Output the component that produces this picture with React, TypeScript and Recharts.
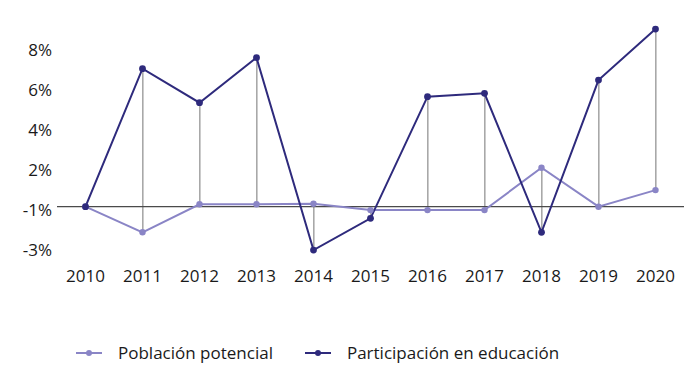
import React from 'react';
import { Bar, ComposedChart, Line, ReferenceLine, XAxis, YAxis } from 'recharts';

const years = ['2010', '2011', '2012', '2013', '2014', '2015', '2016', '2017', '2018', '2019', '2020'];
const poblacion = [0, -1.28, 0.12, 0.12, 0.15, -0.17, -0.17, -0.17, 1.95, 0, 0.83];
const participacion = [0, 6.9, 5.2, 7.45, -2.17, -0.58, 5.5, 5.67, -1.28, 6.33, 8.88];
const yTicks = [8, 6, 4, 2, 0, -2];
const yTickLabels = ['8%', '6%', '4%', '2%', '-1%', '-3%'];
const seriesNames = ['Población potencial', 'Participación en educación'];

const LIGHT = '#8a85c6';
const DARK = '#2e2a7c';
const FONT = '"Open Sans", sans-serif';

const data = years.map((year, i) => ({
  year,
  poblacion: poblacion[i],
  participacion: participacion[i],
  range: [Math.min(poblacion[i], participacion[i]), Math.max(poblacion[i], participacion[i])],
}));

const YTick = ({ x, y, payload }: any) => {
  const idx = yTicks.indexOf(payload.value);
  return (
    <text x={x + 3} y={y} dy={5} textAnchor="end" dominantBaseline="middle" fill="#1a1a1a" fontSize={17} fontFamily={FONT}>
      {yTickLabels[idx]}
    </text>
  );
};

const LegendIcon = ({ color }: { color: string }) => (
  <svg width={26} height={10} style={{ marginRight: 16 }}>
    <line x1={0} y1={5} x2={26} y2={5} stroke={color} strokeWidth={2} />
    <circle cx={13} cy={5} r={3} fill={color} />
  </svg>
);

export default function App() {
  return (
    <div style={{ position: 'absolute', left: 0, top: 0, width: 698, height: 376, background: '#fff' }}>
      <ComposedChart
        width={698}
        height={376}
        data={data}
        margin={{ top: 16.7, right: 14, left: 0, bottom: 79.3 }}
      >
        <XAxis
          dataKey="year"
          axisLine={false}
          tickLine={false}
          tickSize={2}
          tickMargin={1}
          tick={{ fill: '#1a1a1a', fontSize: 17, fontFamily: FONT }}
          interval={0}
        />
        <YAxis
          width={57}
          domain={[-3, 9.5]}
          ticks={yTicks}
          axisLine={false}
          tickLine={false}
          tick={<YTick />}
          interval={0}
        />
        <ReferenceLine y={0} stroke="#4a4a4a" strokeWidth={1.3} />
        <Bar dataKey="range" barSize={1.6} fill="#a8a8a8" isAnimationActive={false} />
        <Line
          dataKey="poblacion"
          stroke={LIGHT}
          strokeWidth={2}
          dot={{ r: 3.2, fill: LIGHT, stroke: LIGHT, strokeWidth: 0 }}
          isAnimationActive={false}
        />
        <Line
          dataKey="participacion"
          stroke={DARK}
          strokeWidth={2}
          dot={{ r: 3.4, fill: DARK, stroke: DARK, strokeWidth: 0 }}
          isAnimationActive={false}
        />
      </ComposedChart>
      <div
        style={{
          position: 'absolute',
          left: 76,
          top: 341,
          display: 'flex',
          alignItems: 'center',
          fontFamily: FONT,
          fontSize: 17,
          color: '#1a1a1a',
        }}
      >
        <div style={{ display: 'flex', alignItems: 'center', marginRight: 32 }}>
          <LegendIcon color={LIGHT} />
          <span>{seriesNames[0]}</span>
        </div>
        <div style={{ display: 'flex', alignItems: 'center' }}>
          <LegendIcon color={DARK} />
          <span>{seriesNames[1]}</span>
        </div>
      </div>
    </div>
  );
}
